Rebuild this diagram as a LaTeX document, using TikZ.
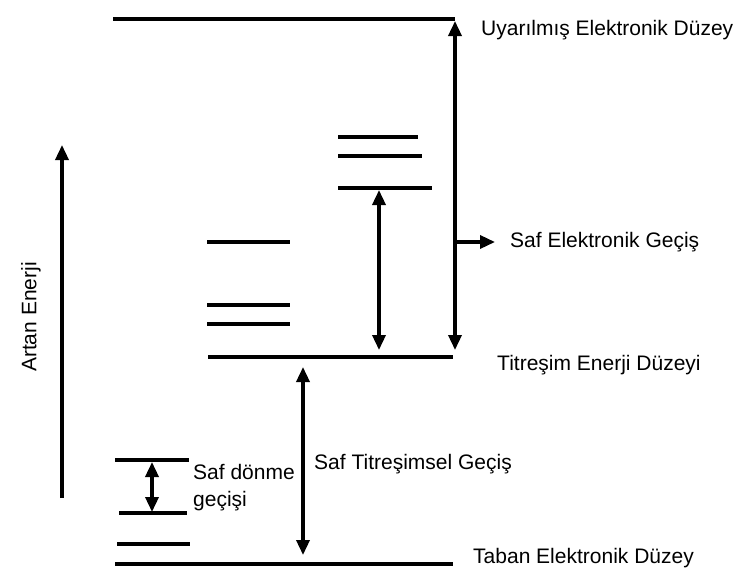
\documentclass[tikz,border=0pt]{standalone}
\usepackage{fontspec}
\setmainfont{Liberation Sans}
\usetikzlibrary{arrows.meta}
\begin{document}
\begin{tikzpicture}[x=1pt,y=-1pt,
  level/.style={line width=3.4pt},
  tip/.tip={Triangle[length=15pt,width=13pt]},
  trans/.style={line width=3.4pt,tip-tip},
  onearrow/.style={line width=3.4pt,-tip},
  lbl/.style={font=\fontsize{21}{27}\selectfont,inner sep=0pt,anchor=west}]
\useasboundingbox (0,0) rectangle (734,576);
% levels
\draw[level] (113,19) -- (455,19);
\draw[level] (338,137) -- (418,137);
\draw[level] (338,156) -- (422,156);
\draw[level] (338,188) -- (432,188);
\draw[level] (207,242) -- (290,242);
\draw[level] (207,305) -- (290,305);
\draw[level] (207,324) -- (290,324);
\draw[level] (208,357) -- (453,357);
\draw[level] (115,460) -- (189,460);
\draw[level] (119,513) -- (187,513);
\draw[level] (117,544) -- (190,544);
\draw[level] (115,564) -- (453,564);
% coordinates for transitions
\coordinate (ueTop) at (455,21);
\coordinate (ueBot) at (455,350);
\coordinate (branch) at (455,242);
\coordinate (branchEnd) at (495,242);
\coordinate (vTop) at (379,190);
\coordinate (vBot) at (379,350);
\coordinate (tTop) at (303,367);
\coordinate (tBot) at (303,555);
\coordinate (rTop) at (152,462);
\coordinate (rBot) at (152,512);
\coordinate (eBot) at (62,498);
\coordinate (eTop) at (62,145);
% transitions
\draw[trans] (ueBot) -- (ueTop);
\draw[onearrow] (branch) -- (branchEnd);
\draw[trans] (vBot) -- (vTop);
\draw[trans] (tBot) -- (tTop);
\draw[trans] (rBot) -- (rTop);
\draw[onearrow] (eBot) -- (eTop);
% labels
\node[lbl] (l1) at (481,30) {Uyarılmış Elektronik Düzey};
\node[lbl] (l2) at (510,242) {Saf Elektronik Geçiş};
\node[lbl] (l3) at (497,365) {Titreşim Enerji Düzeyi};
\node[lbl] (l4) at (314,464) {Saf Titreşimsel Geçiş};
\node[lbl] (l5) at (473,558) {Taban Elektronik Düzey};
\node[lbl,align=left] (l6) at (193,488) {Saf dönme\\geçişi};
\node[lbl,anchor=center,rotate=90] (l7) at (31,317) {Artan Enerji};
\end{tikzpicture}
\end{document}
